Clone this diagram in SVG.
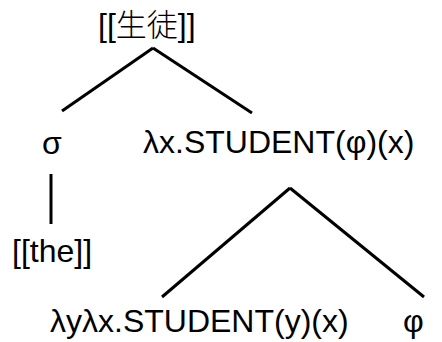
<svg xmlns="http://www.w3.org/2000/svg" width="442" height="342" viewBox="0 0 442 342">
<style>
text{font-family:"Liberation Sans","Noto Sans CJK JP",sans-serif;font-size:32px;fill:#000}
.cjk{font-family:"Noto Sans CJK JP",sans-serif;font-weight:300;font-size:31px}
.e{stroke:#000;stroke-width:3;fill:none;stroke-linecap:butt}
</style>
<rect width="442" height="342" fill="#fff"/>
<g id="edges">
<line class="e" x1="153" y1="48" x2="62" y2="111"/>
<line class="e" x1="153" y1="48" x2="252" y2="113"/>
<line class="e" x1="51" y1="174" x2="51" y2="224"/>
<line class="e" x1="290" y1="188" x2="162" y2="297"/>
<line class="e" x1="290" y1="188" x2="424" y2="297"/>
</g>
<g id="root"><text x="98" y="36">[[<tspan class="cjk">生徒</tspan>]]</text></g>
<g id="sigma"><text x="42" y="154">σ</text></g>
<g id="student"><text x="143" y="153">λx.STUDENT(φ)(x)</text></g>
<g id="the"><text x="12" y="262">[[the]]</text></g>
<g id="studentyx"><text x="50" y="332">λyλx.STUDENT(y)(x)</text></g>
<g id="phi"><text x="403" y="332">φ</text></g>
</svg>
